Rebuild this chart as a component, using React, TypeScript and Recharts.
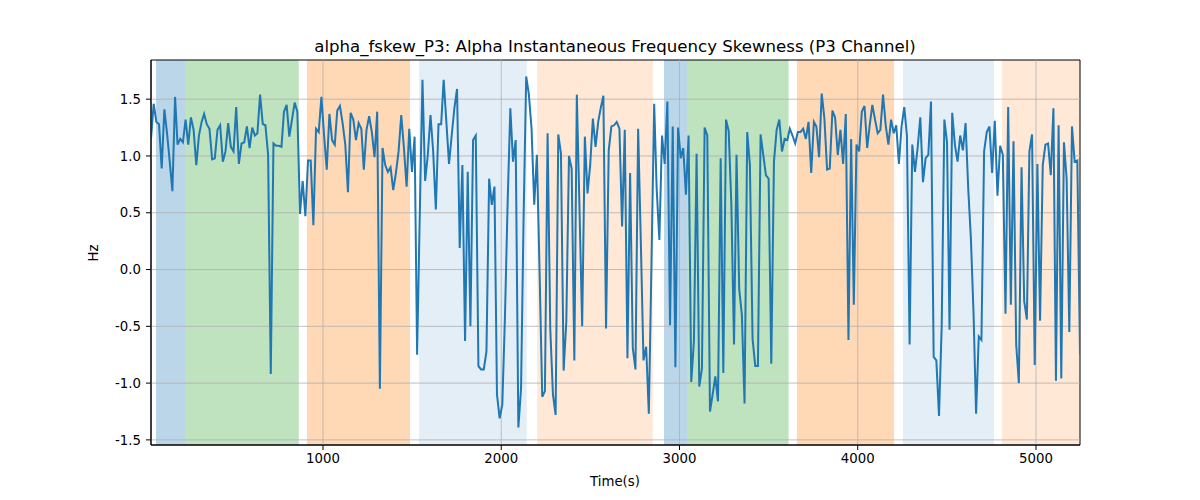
import React from "react";
import {
  LineChart,
  Line,
  XAxis,
  YAxis,
  ReferenceArea,
  ReferenceLine,
} from "recharts";

// sample times (s)
const times = [
  35, 50, 65, 80, 95, 110, 125, 140, 155, 170,
  184, 199, 214, 229, 244, 259, 274, 289, 304, 319,
  333, 348, 363, 378, 393, 408, 423, 438, 453, 468,
  483, 498, 513, 528, 543, 558, 573, 588, 603, 618,
  632, 647, 662, 677, 692, 707, 722, 737, 752, 767,
  781, 796, 811, 826, 841, 856, 871, 886, 901, 916,
  931, 946, 961, 976, 991, 1006, 1021, 1036, 1051, 1066,
  1080, 1095, 1110, 1125, 1140, 1155, 1170, 1185, 1200, 1215,
  1229, 1244, 1259, 1274, 1289, 1304, 1319, 1334, 1349, 1364,
  1379, 1394, 1409, 1424, 1439, 1454, 1469, 1484, 1499, 1514,
  1528, 1543, 1558, 1573, 1588, 1603, 1618, 1633, 1648, 1663,
  1677, 1692, 1707, 1722, 1737, 1752, 1767, 1782, 1797, 1812,
  1827, 1842, 1857, 1872, 1887, 1902, 1917, 1932, 1947, 1962,
  1976, 1991, 2006, 2021, 2036, 2051, 2066, 2081, 2096, 2111,
  2125, 2140, 2155, 2170, 2185, 2200, 2215, 2230, 2245, 2260,
  2275, 2290, 2305, 2320, 2335, 2350, 2365, 2380, 2395, 2410,
  2424, 2439, 2454, 2469, 2484, 2499, 2514, 2529, 2544, 2559,
  2573, 2588, 2603, 2618, 2633, 2648, 2663, 2678, 2693, 2708,
  2723, 2738, 2753, 2768, 2783, 2798, 2813, 2828, 2843, 2858,
  2872, 2887, 2902, 2917, 2932, 2947, 2962, 2977, 2992, 3007,
  3021, 3036, 3051, 3066, 3081, 3096, 3111, 3126, 3141, 3156,
  3171, 3186, 3201, 3216, 3231, 3246, 3261, 3276, 3291, 3306,
  3320, 3335, 3350, 3365, 3380, 3395, 3410, 3425, 3440, 3455,
  3470, 3485, 3500, 3515, 3530, 3545, 3560, 3575, 3590, 3605,
  3619, 3634, 3649, 3664, 3679, 3694, 3709, 3724, 3739, 3754,
  3768, 3783, 3798, 3813, 3828, 3843, 3858, 3873, 3888, 3903,
  3918, 3933, 3948, 3963, 3978, 3993, 4008, 4023, 4038, 4053,
  4067, 4082, 4097, 4112, 4127, 4142, 4157, 4172, 4187, 4202,
  4216, 4231, 4246, 4261, 4276, 4291, 4306, 4321, 4336, 4351,
  4366, 4381, 4396, 4411, 4426, 4441, 4456, 4471, 4486, 4501,
  4515, 4530, 4545, 4560, 4575, 4590, 4605, 4620, 4635, 4650,
  4664, 4679, 4694, 4709, 4724, 4739, 4754, 4769, 4784, 4799,
  4814, 4829, 4844, 4859, 4874, 4889, 4904, 4919, 4934, 4949,
  4963, 4978, 4993, 5008, 5023, 5038, 5053, 5068, 5083, 5098,
  5112, 5127, 5142, 5157, 5172, 5187, 5202, 5217, 5232, 5247,
];

// alpha_fskew_P3 (Hz)
const fskew = [
  1.15, 1.46, 1.3, 1.28, 0.89, 1.41, 1.2, 0.95, 0.69, 1.52,
  1.1, 1.15, 1.12, 1.32, 1.1, 1.34, 1.23, 0.92, 1.18, 1.3,
  1.37, 1.28, 1.24, 0.97, 0.98, 1.23, 1.27, 0.95, 1.04, 1.29,
  1.08, 1.04, 1.43, 0.93, 1.11, 1.12, 1.26, 1.07, 1.25, 1.18,
  1.2, 1.54, 1.28, 1.27, 1.01, -0.92, 1.11, 1.09, 1.09, 1.08,
  1.39, 1.45, 1.17, 1.32, 1.47, 1.39, 0.49, 0.78, 0.47, 0.96,
  0.96, 0.39, 1.24, 1.21, 1.52, 1.18, 0.88, 1.37, 1.14, 1.1,
  1.4, 1.44, 1.29, 1.1, 0.68, 1.38, 1.32, 1.14, 1.29, 1.24,
  0.88, 1.23, 1.35, 1.21, 0.99, 1.39, -1.05, 1.07, 0.92, 0.86,
  0.9, 0.7, 0.85, 1.04, 1.36, 1.07, 0.73, 1.24, 0.86, 1.17,
  -0.75, 0.5, 1.67, 0.78, 1.01, 1.36, 1.04, 0.53, 1.28, 1.28,
  1.67, 1.3, 0.93, 1.18, 1.42, 1.59, 0.19, 0.92, -0.63, 0.86,
  -0.5, 1.14, 1.18, -0.85, -0.88, -0.88, -0.72, 0.8, 0.57, 0.73,
  -1.1, -1.31, -1.19, -0.4, 0.6, 1.42, 0.95, 1.14, -1.39, -1.05,
  0.42, 1.7, 1.54, 1.24, 0.57, 1.01, -0.02, -1.12, -1.07, 1.2,
  -0.52, -1.1, -1.28, 1.19, 1.02, -0.89, -0.46, 1.0, 0.89, -0.8,
  1.54, 0.54, -0.5, 1.17, 0.67, 0.92, 1.33, 1.08, 1.3, 1.43,
  1.53, -0.52, 1.05, 1.26, 1.27, 1.3, 1.24, 0.38, 1.23, -0.78,
  0.85, -0.69, -0.88, 1.24, 0.25, -0.8, -0.68, -1.27, 0.07, 1.46,
  0.71, 0.26, 1.18, 0.93, 1.48, -0.49, 1.26, -0.86, 1.25, 0.98,
  1.07, 0.66, 1.18, -0.99, -0.63, 1.02, -1.03, -0.87, 1.25, 1.18,
  -1.25, -1.1, -0.94, -1.16, 0.98, -0.91, 1.32, 1.22, 0.57, -0.66,
  1.01, -0.17, -0.4, -1.18, 1.21, 0.92, -0.61, -0.85, -0.85, 1.19,
  1.01, 0.83, 0.8, -0.83, 0.95, 1.23, 1.32, 1.04, 1.15, 1.14,
  1.24, 1.18, 1.11, 1.21, 1.21, 1.24, 1.15, 1.3, 0.85, 1.3,
  1.26, 0.99, 1.55, 1.33, 0.88, 0.89, 1.4, 1.34, 1.01, 1.23,
  0.93, 1.37, -0.62, 1.15, -0.31, 1.1, 1.04, 1.39, 1.44, 1.07,
  1.27, 1.45, 1.32, 1.2, 1.23, 1.54, 1.27, 1.1, 1.32, 1.2,
  1.27, 0.93, 1.26, 1.43, 1.18, -0.66, 1.1, 0.86, 1.07, 1.34,
  0.77, 0.98, 1.01, 1.48, -0.77, -0.8, -1.29, -0.5, 1.32, 1.12,
  -0.53, 1.38, 1.1, 0.95, 1.18, 1.05, 1.29, 0.71, 0.27, -0.4,
  -1.27, -0.59, -0.62, 1.04, 1.21, 1.26, 0.85, 1.31, 0.65, 1.09,
  1.01, -0.39, 1.43, -0.31, 1.13, -0.66, -1.0, 0.9, -0.28, -0.44,
  1.04, 1.19, -0.84, 0.93, -0.45, 0.92, 1.1, 1.11, 0.83, 1.42,
  -0.98, 1.27, -0.96, 1.12, 0.8, -0.55, 1.26, 0.95, 0.96, -0.75,
];

// shaded segments
const spanStart = [63, 226, 910, 1539, 2201, 2913, 3046, 3659, 4254, 4809];
const spanEnd = [226, 864, 1488, 2143, 2850, 3046, 3612, 4204, 4764, 5247];
const spanKind = ["a", "b", "c", "d", "e", "a", "b", "c", "d", "e"];

const xTicks = [1000, 2000, 3000, 4000, 5000];
const yTicks = [-1.5, -1.0, -0.5, 0.0, 0.5, 1.0, 1.5];

const KIND_STYLE: Record<string, { color: string; opacity: number }> = {
  a: { color: "#1f77b4", opacity: 0.3 },
  b: { color: "#2ca02c", opacity: 0.3 },
  c: { color: "#ff7f0e", opacity: 0.3 },
  d: { color: "#1f77b4", opacity: 0.12 },
  e: { color: "#ff7f0e", opacity: 0.17 },
};

const X_DOMAIN: [number, number] = [35, 5247];
const Y_DOMAIN: [number, number] = [-1.545, 1.845];
const FONT = "'DejaVu Sans', sans-serif";
const GRID = "#b0b0b0";

export default function App() {
  const data = times.map((t, i) => ({ t, v: fskew[i] }));
  const tickStyle = { fill: "#000", fontSize: 13.3, fontFamily: FONT };

  return (
    <div
      style={{
        position: "absolute",
        left: 0,
        top: 0,
        width: 1200,
        height: 500,
        background: "#fff",
        fontFamily: FONT,
      }}
    >
      <LineChart
        width={1200}
        height={500}
        data={data}
        margin={{ top: 60, right: 120, bottom: 0, left: 0 }}
      >
        <XAxis
          type="number"
          dataKey="t"
          domain={X_DOMAIN}
          ticks={xTicks}
          allowDataOverflow
          height={55}
          tick={tickStyle}
          tickSize={5}
          tickMargin={4}
          tickLine={{ stroke: "#000" }}
          axisLine={{ stroke: "#000" }}
        />
        <YAxis
          type="number"
          domain={Y_DOMAIN}
          ticks={yTicks}
          allowDataOverflow
          width={151}
          tick={tickStyle}
          tickSize={5}
          tickMargin={5}
          tickFormatter={(v: number) => v.toFixed(1)}
          tickLine={{ stroke: "#000" }}
          axisLine={{ stroke: "#000" }}
        />
        {spanStart.map((s, i) => (
          <ReferenceArea
            key={`span-${i}`}
            x1={s}
            x2={spanEnd[i]}
            fill={KIND_STYLE[spanKind[i]].color}
            fillOpacity={KIND_STYLE[spanKind[i]].opacity}
            stroke="none"
            ifOverflow="hidden"
          />
        ))}
        {xTicks.map((t) => (
          <ReferenceLine key={`gx-${t}`} x={t} stroke={GRID} strokeWidth={0.8} />
        ))}
        {yTicks.map((t) => (
          <ReferenceLine key={`gy-${t}`} y={t} stroke={GRID} strokeWidth={0.8} />
        ))}
        <Line
          type="linear"
          dataKey="v"
          stroke="#1f77b4"
          strokeWidth={2}
          dot={false}
          isAnimationActive={false}
        />
        <ReferenceArea
          x1={X_DOMAIN[0]}
          x2={X_DOMAIN[1]}
          y1={Y_DOMAIN[0]}
          y2={Y_DOMAIN[1]}
          fill="none"
          stroke="#000"
          strokeWidth={1}
        />
      </LineChart>
      <svg
        width={1200}
        height={500}
        style={{ position: "absolute", left: 0, top: 0, pointerEvents: "none" }}
      >
        <text x={615} y={52} textAnchor="middle" fontSize={16.6} fontFamily={FONT} fill="#000">
          alpha_fskew_P3: Alpha Instantaneous Frequency Skewness (P3 Channel)
        </text>
        <text x={615} y={486} textAnchor="middle" fontSize={13.3} fontFamily={FONT} fill="#000">
          Time(s)
        </text>
        <text
          x={0}
          y={0}
          transform="translate(98,253) rotate(-90)"
          textAnchor="middle"
          fontSize={13.3}
          fontFamily={FONT}
          fill="#000"
        >
          Hz
        </text>
      </svg>
    </div>
  );
}
